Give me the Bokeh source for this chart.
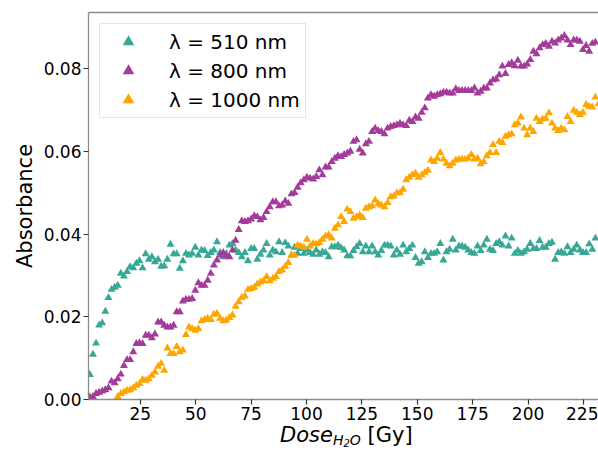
from bokeh.plotting import figure
from bokeh.models import (Range1d, FixedTicker, PrintfTickFormatter, LinearAxis,
                          Legend, LegendItem, Div)
from bokeh.layouts import column
from bokeh.embed import file_html
from bokeh.resources import INLINE

# Dose grid [Gy]
dose = [
    2.2, 3.6, 5.0, 6.4, 7.8, 9.2, 10.6, 12.0, 13.4, 14.8,
    16.2, 17.6, 19.0, 20.4, 21.8, 23.2, 24.6, 26.0, 27.4, 28.8,
    30.2, 31.6, 33.0, 34.4, 35.8, 37.2, 38.6, 40.0, 41.4, 42.8,
    44.2, 45.6, 47.0, 48.4, 49.8, 51.2, 52.6, 54.0, 55.4, 56.8,
    58.2, 59.6, 61.0, 62.4, 63.8, 65.2, 66.6, 68.0, 69.4, 70.8,
    72.2, 73.6, 75.0, 76.4, 77.8, 79.2, 80.6, 82.0, 83.4, 84.8,
    86.2, 87.6, 89.0, 90.4, 91.8, 93.2, 94.6, 96.0, 97.4, 98.8,
    100.2, 101.6, 103.0, 104.4, 105.8, 107.2, 108.6, 110.0, 111.4, 112.8,
    114.2, 115.6, 117.0, 118.4, 119.8, 121.2, 122.6, 124.0, 125.4, 126.8,
    128.2, 129.6, 131.0, 132.4, 133.8, 135.2, 136.6, 138.0, 139.4, 140.8,
    142.2, 143.6, 145.0, 146.4, 147.8, 149.2, 150.6, 152.0, 153.4, 154.8,
    156.2, 157.6, 159.0, 160.4, 161.8, 163.2, 164.6, 166.0, 167.4, 168.8,
    170.2, 171.6, 173.0, 174.4, 175.8, 177.2, 178.6, 180.0, 181.4, 182.8,
    184.2, 185.6, 187.0, 188.4, 189.8, 191.2, 192.6, 194.0, 195.4, 196.8,
    198.2, 199.6, 201.0, 202.4, 203.8, 205.2, 206.6, 208.0, 209.4, 210.8,
    212.2, 213.6, 215.0, 216.4, 217.8, 219.2, 220.6, 222.0, 223.4, 224.8,
    226.2, 227.6, 229.0, 230.4, 231.8,
]

# Absorbance at 510 nm
abs_510 = [
    0.0060, 0.0109, 0.0136, 0.0180, 0.0185, 0.0213, 0.0246, 0.0266, 0.0271, 0.0276,
    0.0305, 0.0298, 0.0309, 0.0321, 0.0318, 0.0329, 0.0335, 0.0318, 0.0352, 0.0339,
    0.0345, 0.0333, 0.0339, 0.0322, 0.0323, 0.0339, 0.0375, 0.0352, 0.0352, 0.0317,
    0.0335, 0.0353, 0.0349, 0.0353, 0.0368, 0.0349, 0.0361, 0.0360, 0.0348, 0.0355,
    0.0361, 0.0381,
    0.0355, 0.0345, 0.0353, 0.0373, 0.0377, 0.0361, 0.0355, 0.0345, 0.0355, 0.0335,
    0.0365, 0.0365, 0.0339, 0.0351, 0.0361, 0.0377, 0.0349, 0.0361, 0.0357, 0.0381,
    0.0355, 0.0379, 0.0371, 0.0349, 0.0368, 0.0353, 0.0365, 0.0353, 0.0361, 0.0355,
    0.0351, 0.0361, 0.0351, 0.0357, 0.0355, 0.0345, 0.0369, 0.0369, 0.0373,
    0.0367, 0.0361, 0.0347, 0.0347, 0.0360, 0.0369, 0.0377, 0.0357, 0.0371, 0.0357,
    0.0371, 0.0357, 0.0349, 0.0360, 0.0373, 0.0373, 0.0371, 0.0349, 0.0361, 0.0351,
    0.0373, 0.0357, 0.0365, 0.0373, 0.0343, 0.0329, 0.0333, 0.0357, 0.0343, 0.0353,
    0.0353, 0.0357, 0.0377, 0.0337, 0.0357, 0.0363, 0.0387, 0.0361, 0.0371,
    0.0371, 0.0368, 0.0361, 0.0355, 0.0353, 0.0371, 0.0360, 0.0373, 0.0387, 0.0363,
    0.0360, 0.0377, 0.0381, 0.0373, 0.0395, 0.0371, 0.0390, 0.0353, 0.0360, 0.0353,
    0.0357, 0.0363, 0.0377, 0.0365, 0.0365, 0.0384, 0.0368, 0.0368, 0.0377, 0.0380,
    0.0339, 0.0355, 0.0357, 0.0353, 0.0369, 0.0355, 0.0363, 0.0373, 0.0361, 0.0355,
    0.0355, 0.0376, 0.0363, 0.0390,
]

# Absorbance at 800 nm
abs_800 = [
    0.0006, 0.0007, 0.0014, 0.0017, 0.0020, 0.0023, 0.0028, 0.0044, 0.0040, 0.0050,
    0.0061, 0.0082, 0.0096, 0.0096, 0.0115, 0.0135, 0.0137, 0.0135, 0.0155, 0.0155,
    0.0149, 0.0158, 0.0187, 0.0187, 0.0179, 0.0175, 0.0175, 0.0179, 0.0212, 0.0212,
    0.0238, 0.0242, 0.0242, 0.0244, 0.0264, 0.0282, 0.0276, 0.0276, 0.0288, 0.0305,
    0.0325, 0.0337,
    0.0349, 0.0355, 0.0347, 0.0345, 0.0361, 0.0385, 0.0411, 0.0432, 0.0430, 0.0432,
    0.0436, 0.0444, 0.0442, 0.0434, 0.0440, 0.0454, 0.0466, 0.0478, 0.0478, 0.0468,
    0.0470, 0.0480, 0.0474, 0.0497, 0.0500, 0.0513, 0.0524, 0.0531, 0.0537, 0.0535,
    0.0533, 0.0539, 0.0555, 0.0543, 0.0562, 0.0562, 0.0575, 0.0583, 0.0589,
    0.0587, 0.0592, 0.0596, 0.0600, 0.0624, 0.0628, 0.0605, 0.0596, 0.0618, 0.0624,
    0.0648, 0.0656, 0.0650, 0.0648, 0.0642, 0.0656, 0.0660, 0.0662, 0.0664, 0.0668,
    0.0664, 0.0662, 0.0675, 0.0672, 0.0683, 0.0680, 0.0694, 0.0705, 0.0729, 0.0737,
    0.0733, 0.0737, 0.0739, 0.0743, 0.0743, 0.0741, 0.0741, 0.0751, 0.0747, 0.0747,
    0.0747, 0.0747, 0.0747, 0.0753, 0.0741, 0.0745, 0.0753, 0.0753, 0.0765, 0.0773,
    0.0775, 0.0785, 0.0806, 0.0788, 0.0810, 0.0814, 0.0807, 0.0820, 0.0806, 0.0806,
    0.0811, 0.0822, 0.0842, 0.0836, 0.0850, 0.0858, 0.0861, 0.0854, 0.0866, 0.0862,
    0.0869, 0.0874, 0.0880, 0.0869, 0.0858, 0.0869, 0.0869, 0.0866, 0.0846, 0.0856,
    0.0842, 0.0861, 0.0864,
]

# Absorbance at 1000 nm (first visible point at dose[9])
start_1000 = 9
abs_1000 = [
    0.0007, 0.0014, 0.0018, 0.0022, 0.0023, 0.0028, 0.0034, 0.0038, 0.0048, 0.0046,
    0.0050, 0.0058, 0.0066, 0.0080, 0.0087, 0.0070, 0.0124, 0.0111, 0.0111, 0.0128,
    0.0115, 0.0119, 0.0157, 0.0175, 0.0171, 0.0167, 0.0171, 0.0190, 0.0193, 0.0196,
    0.0193, 0.0206,
    0.0208, 0.0196, 0.0190, 0.0192, 0.0198, 0.0204, 0.0225, 0.0236, 0.0247, 0.0250,
    0.0266, 0.0268, 0.0271, 0.0279, 0.0284, 0.0287, 0.0297, 0.0287, 0.0293, 0.0297,
    0.0309, 0.0313, 0.0322, 0.0331, 0.0349, 0.0349, 0.0373, 0.0371, 0.0368, 0.0387,
    0.0371, 0.0377, 0.0376, 0.0379, 0.0387, 0.0395, 0.0398, 0.0390, 0.0414, 0.0422,
    0.0442, 0.0430, 0.0460, 0.0454, 0.0438, 0.0442, 0.0446, 0.0440, 0.0462, 0.0466,
    0.0468, 0.0482, 0.0473, 0.0470, 0.0466, 0.0476, 0.0490, 0.0492, 0.0499, 0.0500,
    0.0508, 0.0531, 0.0537, 0.0543, 0.0547, 0.0537, 0.0543, 0.0549, 0.0554, 0.0579,
    0.0575, 0.0583, 0.0597, 0.0581, 0.0571, 0.0565, 0.0571, 0.0579, 0.0581, 0.0581,
    0.0581, 0.0583, 0.0592, 0.0581, 0.0583, 0.0570, 0.0575, 0.0589, 0.0597, 0.0616,
    0.0597, 0.0624, 0.0621, 0.0636, 0.0640, 0.0642, 0.0664, 0.0668, 0.0683, 0.0656,
    0.0640, 0.0656, 0.0648, 0.0680, 0.0672, 0.0678, 0.0680, 0.0693, 0.0668, 0.0656,
    0.0650, 0.0656, 0.0652, 0.0684, 0.0672, 0.0699, 0.0694, 0.0689, 0.0694, 0.0713,
    0.0709, 0.0707, 0.0731, 0.0715,
]

labels = ["λ = 510 nm", "λ = 800 nm", "λ = 1000 nm"]
colors = ["#37a896", "#a33b9b", "#ffa500"]
x_ticks = [25, 50, 75, 100, 125, 150, 175, 200, 225]
y_ticks = [0.00, 0.02, 0.04, 0.06, 0.08]

FONT = "DejaVu Sans"
SPINE = "#8c8c8c"

p = figure(width=598, height=427, output_backend="svg", toolbar_location=None,
           x_range=Range1d(1.6, 231.8), y_range=Range1d(0, 0.0936),
           min_border_left=88, min_border_right=0, min_border_top=12,
           min_border_bottom=28, background_fill_color="white",
           border_fill_color="white", margin=(0, 0, 0, 0))
p.outline_line_color = None
p.xgrid.visible = False
p.ygrid.visible = False

series = [
    (dose[:len(abs_510)], abs_510),
    (dose[:len(abs_800)], abs_800),
    (dose[start_1000:start_1000 + len(abs_1000)], abs_1000),
]
renderers = []
for (xs, ys), c in zip(series, colors):
    r = p.scatter(xs, ys, marker="triangle", size=8, fill_color=c,
                  line_color=None)
    renderers.append(r)

xa = p.xaxis[0]
ya = p.yaxis[0]
xa.ticker = FixedTicker(ticks=x_ticks)
ya.ticker = FixedTicker(ticks=y_ticks)
ya.formatter = PrintfTickFormatter(format="%.2f")
xa.formatter = PrintfTickFormatter(format="%d")
for ax in (xa, ya):
    ax.axis_line_color = SPINE
    ax.axis_line_width = 1.3
    ax.major_tick_line_color = "#333333"
    ax.major_tick_line_width = 1.2
    ax.major_tick_in = 0
    ax.major_tick_out = 5
    ax.minor_tick_line_color = None
    ax.major_label_text_font = FONT
    ax.major_label_text_font_size = "17px"
    ax.major_label_text_color = "black"
xa.major_label_standoff = 2
ya.major_label_standoff = 2
ya.axis_label = "Absorbance"
ya.axis_label_text_font = FONT
ya.axis_label_text_font_size = "21px"
ya.axis_label_text_font_style = "normal"
ya.axis_label_text_color = "black"
ya.axis_label_standoff = 4

top = LinearAxis(axis_line_color=SPINE, axis_line_width=1.3,
                 ticker=FixedTicker(ticks=[]),
                 major_tick_line_color=None, minor_tick_line_color=None)
p.add_layout(top, "above")

legend = Legend(items=[LegendItem(label=l, renderers=[r])
                       for l, r in zip(labels, renderers)],
                location="top_left")
legend.margin = 11
legend.padding = 3
legend.spacing = 0
legend.glyph_width = 50
legend.glyph_height = 29
legend.label_height = 28
legend.label_width = 133
legend.label_standoff = 16
legend.label_text_font = FONT
legend.label_text_font_size = "20px"
legend.label_text_color = "black"
legend.label_text_baseline = "middle"
legend.border_line_color = "#cccccc"
legend.border_line_width = 1
legend.background_fill_color = "white"
legend.background_fill_alpha = 0.8
p.add_layout(legend)

xlabel_html = (
    '<div style="position:relative;width:598px;height:23px;">'
    '<span style="position:absolute;left:280px;top:-2px;'
    "font-family:'DejaVu Sans';font-size:21px;line-height:21px;"
    'white-space:nowrap;color:black;">'
    '<i>Dose</i>'
    '<span style="font-size:14px;font-style:italic;vertical-align:-3px;">'
    'H<span style="font-size:10px;vertical-align:-2px;">2</span>O</span>'
    ' [Gy]</span></div>'
)
xlabel = Div(text=xlabel_html, width=598, height=23, margin=(0, 0, 0, 0))

layout = column(p, xlabel, spacing=0, margin=(0, 0, 0, 0))

open("out.html", "w").write(file_html(layout, INLINE))
